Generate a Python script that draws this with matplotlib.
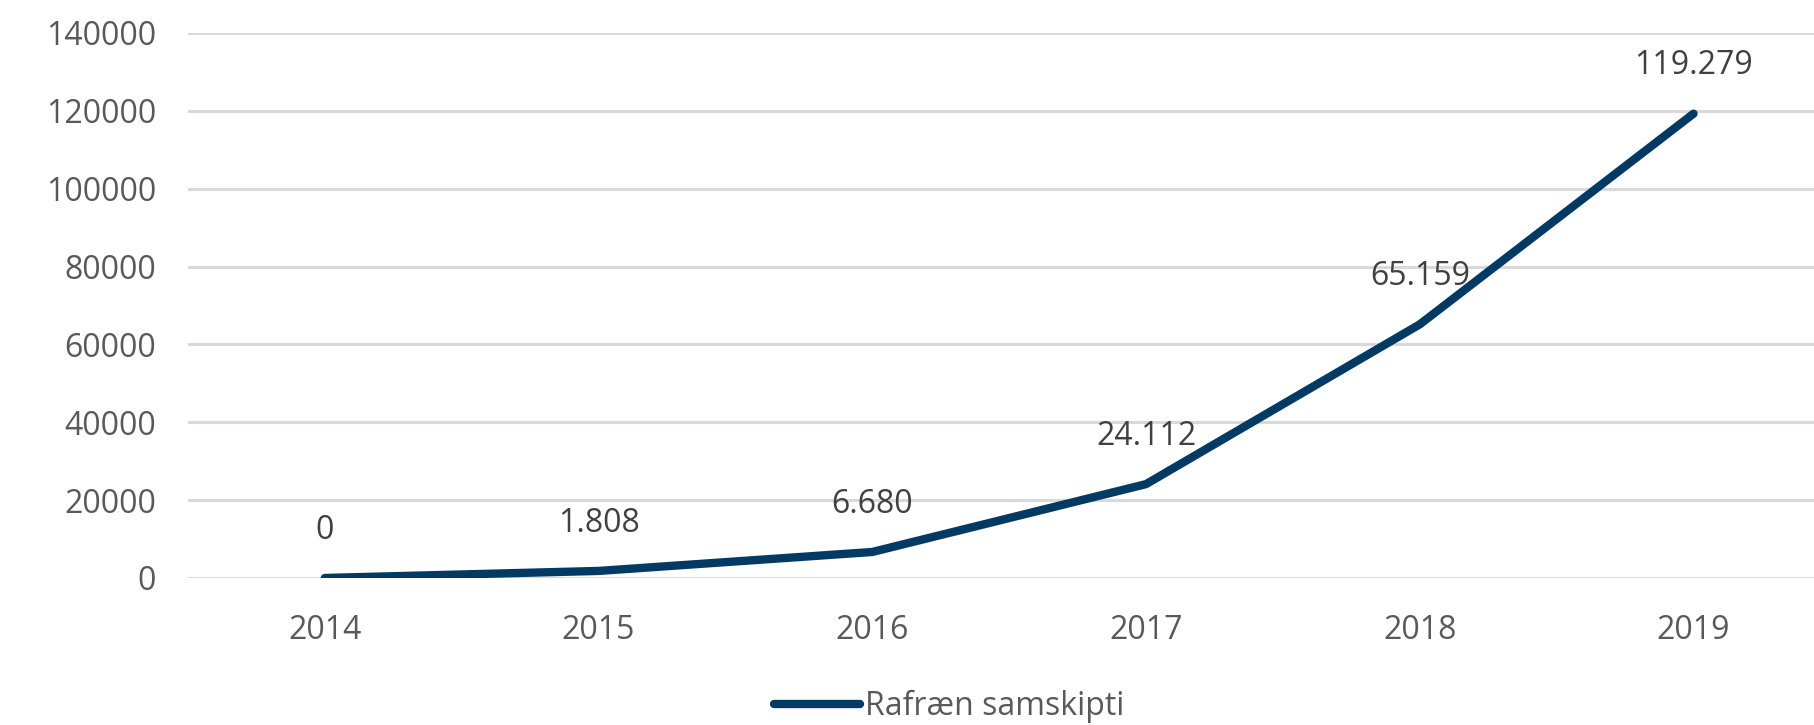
import matplotlib.pyplot as plt

years = ['2014', '2015', '2016', '2017', '2018', '2019']
values = [0, 1808, 6680, 24112, 65159, 119279]
series_name = 'Rafræn samskipti'
yticks = [0, 20000, 40000, 60000, 80000, 100000, 120000, 140000]

plt.rcParams['font.family'] = ['Open Sans', 'DejaVu Sans']

fig = plt.figure(figsize=(18.14, 7.25), dpi=100)
ax = fig.add_axes([0.1036, 0.2028, 0.8964, 0.7517])

x = list(range(len(years)))
ax.plot(x, values, color='#023a64', lw=6, solid_capstyle='round',
        solid_joinstyle='round', label=series_name, zorder=3)

for xi, v in zip(x, values):
    ax.annotate(f'{v:,}'.replace(',', '.'), (xi, v), xytext=(0, 34.5),
                textcoords='offset points', ha='center', va='center',
                fontsize=23, color='#404040')

ax.set_xlim(-0.5, 5.44)
ax.set_ylim(0, 140000)
ax.set_xticks(x)
ax.set_xticklabels(years)
ax.set_yticks(yticks)
ax.set_yticklabels([str(t) for t in yticks])
ax.tick_params(axis='both', length=0, labelsize=23, labelcolor='#595959')
ax.tick_params(axis='y', pad=23)
ax.tick_params(axis='x', pad=26)
ax.grid(axis='y', color='#d9d9d9', lw=2.2)
ax.set_axisbelow(True)
for s in ax.spines.values():
    s.set_visible(False)

fig.legend(loc='center', bbox_to_anchor=(0.523, 0.025), frameon=False,
           fontsize=23, labelcolor='#595959', handlelength=2.7,
           handletextpad=0.15)

fig.savefig('out.png', dpi=100)
